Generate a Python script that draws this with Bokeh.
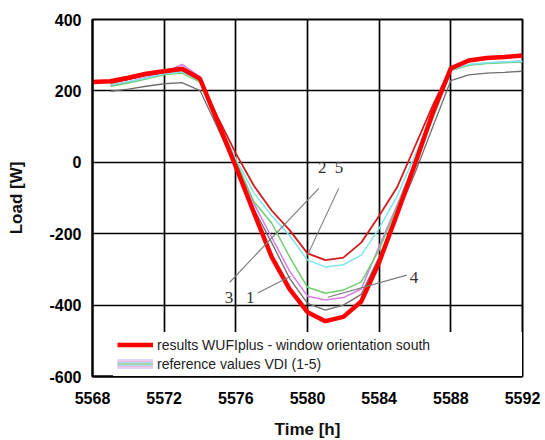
from bokeh.plotting import figure
from bokeh.models import Range1d, FixedTicker, Legend, LegendItem
from bokeh.core.properties import value
from bokeh.embed import file_html
from bokeh.resources import INLINE

nan = float("nan")

# ---------------- data ----------------
hours_wufi = list(range(5568, 5593))
wufi_south = [225, 227, 237, 248, 255, 262, 234, 112, -12, -140, -265, -355, -420, -445,
              -433, -390, -280, -145, -5, 140, 263, 285, 292, 295, 299]

hours_ref = list(range(5569, 5593))
ref_red = [222, 232, 244, 252, 258, 232, 125, 25, -65, -135, -190, -255, -274, -267,
           -225, -150, -70, 45, 160, 265, 283, 290, 293, 297]
ref_cyan = [217, 226, 236, 248, 253, 228, 115, 10, -85, -150, -205, -274, -293, -287,
            -260, -185, -95, 20, 140, 258, 274, 279, 281, 283]
ref_green = [212, 222, 233, 245, 250, 225, 110, 5, -110, -170, -265, -350, -367, -358,
             -335, -245, -125, 0, 125, 257, 272, 277, 279, 281]
ref_magenta = [215, 225, 238, 252, 274, 239, 110, 0, -115, -210, -305, -375, -386, -379,
               -355, -235, -120, 0, 125, 257, 273, 278, 281, 284]
ref_grey = [199, 205, 213, 220, 223, 201, 95, -15, -130, -225, -325, -395, -414, -400,
            -370, -265, -150, -30, 100, 229, 245, 250, 252, 255]

x_ticks = [5568, 5572, 5576, 5580, 5584, 5588, 5592]
y_ticks = [-600, -400, -200, 0, 200, 400]
y_tick_labels = ["-600", "-400", "-200", "0", "200", "400"]

# curve number annotations (data coordinates)
curve_labels = ["2", "5", "3", "1", "4"]
curve_label_x = [5580.83, 5581.76, 5575.62, 5576.8, 5585.95]
curve_label_y = [-15, -15, -379, -379, -323]
leader_x0 = [5575.66, 5581.74, 5577.22, 5585.54]
leader_y0 = [-336, -73, -366, -316]
leader_x1 = [5580.63, 5580.0, 5579.06, 5581.13]
leader_y1 = [-73, -260, -319, -378]

# ---------------- figure ----------------
p = figure(frame_width=430, frame_height=357, output_backend="svg", toolbar_location=None,
           x_range=Range1d(5568, 5592), y_range=Range1d(-600, 400),
           min_border_left=92, min_border_right=18, min_border_top=19, min_border_bottom=40)
p.background_fill_color = "white"
p.border_fill_color = "white"
p.outline_line_color = "black"
p.outline_line_width = 2

p.xaxis.ticker = FixedTicker(ticks=x_ticks)
p.yaxis.ticker = FixedTicker(ticks=y_ticks)
p.yaxis.major_label_overrides = {t: s for t, s in zip(y_ticks, y_tick_labels)}
p.xgrid.ticker = FixedTicker(ticks=x_ticks)
p.ygrid.ticker = FixedTicker(ticks=y_ticks)
p.grid.grid_line_color = "black"
p.grid.grid_line_width = 1.7

for ax in (p.xaxis, p.yaxis):
    ax.axis_line_color = "black"
    ax.axis_line_width = 2
    ax.major_tick_in = 0
    ax.major_tick_out = 0
    ax.minor_tick_in = 0
    ax.minor_tick_out = 0
    ax.major_label_text_font = "Liberation Sans"
    ax.major_label_text_font_style = "bold"
    ax.major_label_text_font_size = "16px"
    ax.major_label_text_color = "black"
    ax.axis_label_text_font = "Liberation Sans"
    ax.axis_label_text_font_style = "bold"
    ax.axis_label_text_font_size = "17px"
    ax.axis_label_text_color = "#111111"

p.xaxis.axis_label = "Time [h]"
p.yaxis.axis_label = "Load [W]"
p.xaxis.major_label_standoff = 15
p.xaxis.axis_label_standoff = 13
p.yaxis.major_label_standoff = 11
p.yaxis.axis_label_standoff = 20

# reference curves
p.line(hours_ref, ref_grey, line_color="#6e6e6e", line_width=1.3)
p.line(hours_ref, ref_magenta, line_color="#d77ce8", line_width=1.5)
p.line(hours_ref, ref_green, line_color="#6fcf6f", line_width=1.5)
p.line(hours_ref, ref_cyan, line_color="#7ee6ee", line_width=1.5)
p.line(hours_ref, ref_red, line_color="#d41c1c", line_width=1.8)

# WUFI result
r_wufi = p.line(hours_wufi, wufi_south, line_color="#ff0000", line_width=4.5)

# leader lines and numbers
p.segment(x0=leader_x0, y0=leader_y0, x1=leader_x1, y1=leader_y1,
          line_color="#7a7a7a", line_width=1.1)
p.text(x=curve_label_x, y=curve_label_y, text=curve_labels,
       text_font=value("Liberation Serif"), text_font_size="17px",
       text_color="#333333", text_align="center", text_baseline="middle")

# legend-only glyphs for the pastel reference sample (no visible points)
d1 = p.line([nan], [nan], line_color="#cdbcf2", line_width=10, line_alpha=0.6)
d2 = p.line([nan], [nan], line_color="#f2b4da", line_width=7, line_alpha=0.7)
d3 = p.line([nan], [nan], line_color="#a9d9f2", line_width=4, line_alpha=0.8)
d4 = p.line([nan], [nan], line_color="#9ad89a", line_width=1.5)

legend = Legend(items=[
    LegendItem(label="results WUFIplus - window orientation south", renderers=[r_wufi]),
    LegendItem(label="reference values VDI (1-5)", renderers=[d1, d2, d3, d4]),
], location=(21, 0))
legend.label_text_font = "Liberation Sans"
legend.label_text_font_size = "14px"
legend.label_text_color = "#222222"
legend.glyph_width = 36
legend.glyph_height = 17
legend.label_height = 17
legend.label_width = 361
legend.label_standoff = 4
legend.spacing = 2
legend.padding = 4
legend.margin = 0
legend.border_line_alpha = 0
legend.background_fill_color = "white"
legend.background_fill_alpha = 1
p.add_layout(legend, "center")

open("out.html", "w").write(file_html(p, INLINE))
